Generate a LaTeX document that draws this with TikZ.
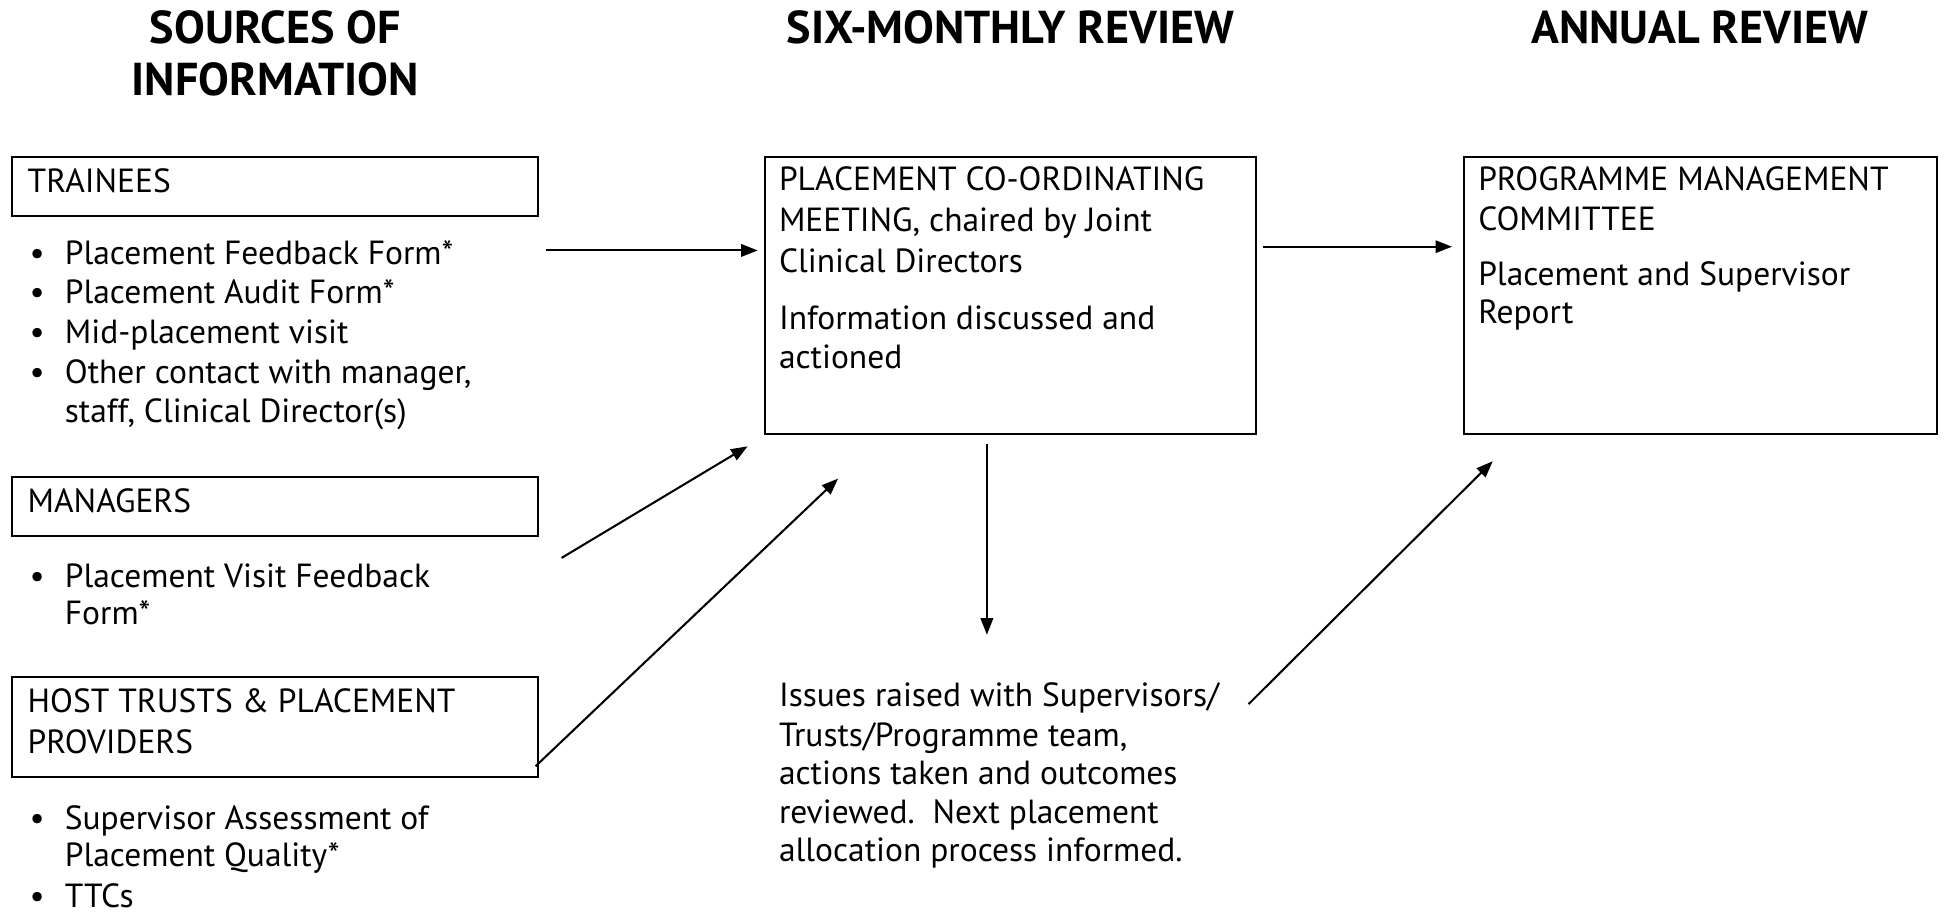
\documentclass[tikz,border=0pt]{standalone}
\usepackage{fontspec}
\setmainfont{PT Sans}
\usetikzlibrary{arrows.meta,fit}
\begin{document}
\begin{tikzpicture}[x=0.6pt,y=-0.6pt,
  box/.style={draw,line width=1pt,inner sep=0pt},
  txt/.style={anchor=base west,inner sep=0pt,font=\fontsize{16.2}{19}\selectfont},
  ttl/.style={anchor=base,inner sep=0pt,font=\fontsize{22.3}{26}\selectfont\bfseries},
  bul/.style={anchor=base,inner sep=0pt,font=\fontsize{16.2}{19}\selectfont},
  arr/.style={line width=1pt,-{Triangle[length=8pt,width=6pt]}}]
\useasboundingbox (0,0) rectangle (1568,736);
% titles
\node[ttl] (t1a) at (222,35) {SOURCES OF};
\node[ttl] (t1b) at (222,77) {INFORMATION};
\node[ttl] (t2) at (815,35) {SIX-MONTHLY REVIEW};
\node[ttl] (t3) at (1371,35) {ANNUAL REVIEW};
% boxes
\node[box,fit={(10,127) (434,174)}] (trainees) {};
\node[box,fit={(10,385) (434,432)}] (managers) {};
\node[box,fit={(10,546) (434,627)}] (host) {};
\node[box,fit={(617,127) (1013,350)}] (pcm) {};
\node[box,fit={(1181,127) (1562,350)}] (pmc) {};
% trainees
\node[txt] (tr) at (22,155) {TRAINEES};
\node[bul] (b1) at (30,213) {\textbullet};
\node[txt] (l1) at (52,213) {Placement Feedback Form*};
\node[bul] (b2) at (30,245) {\textbullet};
\node[txt] (l2) at (52,245) {Placement Audit Form*};
\node[bul] (b3) at (30,277) {\textbullet};
\node[txt] (l3) at (52,277) {Mid-placement visit};
\node[bul] (b4) at (30,309) {\textbullet};
\node[txt] (l4) at (52,309) {Other contact with manager,};
\node[txt] (l5) at (52,341) {staff, Clinical Director(s)};
% managers
\node[txt] (mg) at (22,413) {MANAGERS};
\node[bul] (b5) at (30,474) {\textbullet};
\node[txt] (m1) at (52,474) {Placement Visit Feedback};
\node[txt] (m2) at (52,504) {Form*};
% host
\node[txt] (h1) at (22,575) {HOST TRUSTS \& PLACEMENT};
\node[txt] (h2) at (22,608) {PROVIDERS};
\node[bul] (b6) at (30,669) {\textbullet};
\node[txt] (s1) at (52,669) {Supervisor Assessment of};
\node[txt] (s2) at (52,699) {Placement Quality*};
\node[bul] (b7) at (30,732) {\textbullet};
\node[txt] (s3) at (52,732) {TTCs};
% pcm
\node[txt] (p1) at (628,154) {PLACEMENT CO-ORDINATING};
\node[txt] (p2) at (628,187) {MEETING, chaired by Joint};
\node[txt] (p3) at (628,220) {Clinical Directors};
\node[txt] (p4) at (628,266) {Information discussed and};
\node[txt] (p5) at (628,297) {actioned};
% pmc
\node[txt] (q1) at (1192,154) {PROGRAMME MANAGEMENT};
\node[txt] (q2) at (1192,186) {COMMITTEE};
\node[txt] (q3) at (1192,230) {Placement and Supervisor};
\node[txt] (q4) at (1192,261) {Report};
% issues
\node[txt] (i1) at (628,570) {Issues raised with Supervisors/};
\node[txt] (i2) at (628,602) {Trusts/Programme team,};
\node[txt] (i3) at (628,633) {actions taken and outcomes};
\node[txt] (i4) at (628,664) {reviewed.\ \ Next placement};
\node[txt] (i5) at (628,695) {allocation process informed.};
% connectors
\coordinate (a1s) at (440,202);
\coordinate (a2s) at (1019,199);
\coordinate (a3s) at (453,450);
\coordinate (a3e) at (603,360);
\coordinate (a4s) at (432,618);
\coordinate (a4e) at (676,386);
\coordinate (a5s) at (796,358);
\coordinate (a5e) at (796,512);
\coordinate (a6s) at (1007,568);
\coordinate (a6e) at (1204,372);
\draw[arr,shorten >=3pt] (a1s) -- (a1s -| pcm.west);
\draw[arr,shorten >=5.4pt] (a2s) -- (a2s -| pmc.west);
\draw[arr] (a3s) -- (a3e);
\draw[arr] (a4s) -- (a4e);
\draw[arr] (a5s) -- (a5e);
\draw[arr] (a6s) -- (a6e);
\end{tikzpicture}
\end{document}
